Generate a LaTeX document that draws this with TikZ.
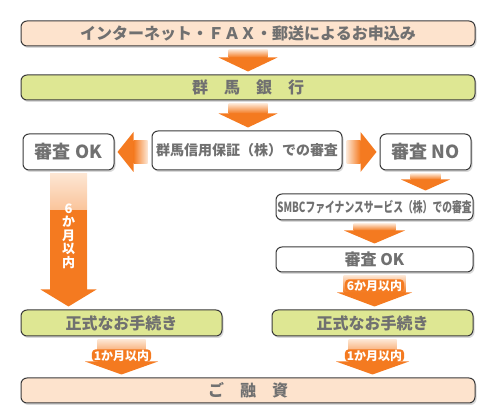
\documentclass[tikz,border=0pt]{standalone}
\usepackage{fontspec}
\newfontfamily\jp{Noto Sans CJK JP}
\usetikzlibrary{calc,shadows,positioning}

\definecolor{arrorange}{HTML}{F47A20}
\definecolor{palefade}{HTML}{FDE6D3}
\definecolor{peach}{HTML}{FDE3CD}
\definecolor{leaf}{HTML}{DEE793}
\definecolor{txtgray}{HTML}{707070}
\definecolor{edge}{HTML}{3A3A3A}

\tikzset{
  box/.style={draw=edge, line width=1pt, rounded corners=6pt, fill=white, text=txtgray,
    font=\jp\bfseries\fontsize{16pt}{16pt}\selectfont, inner sep=0pt,
    drop shadow={shadow xshift=1.5pt, shadow yshift=-2pt, opacity=.3}},
  widebox/.style={box, fill=peach, minimum width=454pt, minimum height=25pt},
  leafbox/.style={box, fill=leaf},
  tag/.style={fill=arrorange, text=white, rounded corners=4pt, inner xsep=2pt, inner ysep=.5pt,
    font=\jp\bfseries\fontsize{12pt}{12pt}\selectfont}
}

% block arrow pointing down: from, to, shaft half width, head half width, head length
\newcommand{\flowdown}[5]{%
  \coordinate (fs) at ($(#1.south)+(0,3)$);
  \coordinate (ft) at ($(fs |- #2.north)+(0,-3)$);
  \shade[top color=palefade, bottom color=arrorange] ($(fs)+(-#3,0)$) rectangle ($(ft)+(#3,-#5)$);
  \fill[arrorange] ($(ft)+(-#4,-#5)$) -- ($(ft)+(#4,-#5)$) -- (ft) -- cycle;
}

\begin{document}
\begin{tikzpicture}[x=1pt, y=-1pt]
  \useasboundingbox (0,0) rectangle (504,419);

  % boxes
  \node[widebox] (apply) at (248,33.5) {インターネット・ＦＡＸ・郵送によるお申込み};
  \node[widebox, fill=leaf] (bank) at (248,87.5) {群　馬　銀　行};
  \node[box, minimum width=91pt, minimum height=36pt, font=\jp\bfseries\fontsize{18pt}{18pt}\selectfont]
    (okL) at (68.5,152) {審査 OK};
  \node[box, minimum width=190pt, minimum height=39pt, font=\jp\bfseries\fontsize{14pt}{14pt}\selectfont]
    (hosho) at (247,150.5) {群馬信用保証（株）での審査};
  \node[box, minimum width=91pt, minimum height=36pt, font=\jp\bfseries\fontsize{18pt}{18pt}\selectfont]
    (noR) at (425.5,152) {審査 NO};
  \node[box, minimum width=197pt, minimum height=26pt, font=\jp\bfseries\fontsize{14pt}{14pt}\selectfont]
    (smbc) at (374.5,207) {\scalebox{0.7}[1]{SMBCファイナンスサービス（株）での審査}};
  \node[box, minimum width=197pt, minimum height=25pt] (okR) at (374.5,259.5) {審査 OK};
  \node[leafbox, minimum width=201pt, minimum height=26pt] (tetL) at (121.5,323) {正式なお手続き};
  \node[leafbox, minimum width=201pt, minimum height=26pt] (tetR) at (372.5,323) {正式なお手続き};
  \node[widebox] (yushi) at (248,390.5) {ご　融　資};

  % arrows down
  \flowdown{apply}{bank}{19.5}{29.5}{14}
  \flowdown{bank}{hosho}{19.5}{29.5}{14}
  \flowdown{noR}{smbc}{15}{24.5}{11}
  \flowdown{smbc}{okR}{21}{30.5}{13}
  \flowdown{okR}{tetR}{31}{37.5}{14}
  \flowdown{tetL}{yushi}{24}{36.5}{13}
  \flowdown{tetR}{yushi}{24}{36.5}{13}
  \flowdown{okL}{tetL}{18.5}{28}{17}
  \fill[arrorange] ($(okL.south)+(-18.5,40)$) rectangle ($(tetL.north -| okL.south)+(18.5,-20)$);

  % arrows to the sides
  \coordinate (ls) at ($(hosho.west |- okL.east)+(-4,0)$);
  \coordinate (lt) at ($(okL.east)+(3,0)$);
  \shade[left color=arrorange, right color=palefade] ($(lt)+(16,-11.5)$) rectangle ($(ls)+(0,11.5)$);
  \fill[arrorange] ($(lt)+(16,-20)$) -- ($(lt)+(16,20)$) -- (lt) -- cycle;
  \coordinate (rs) at ($(hosho.east |- noR.west)+(4,0)$);
  \coordinate (rt) at ($(noR.west)+(-3,0)$);
  \shade[left color=palefade, right color=arrorange] ($(rs)+(0,-11.5)$) rectangle ($(rt)+(-16,11.5)$);
  \fill[arrorange] ($(rt)+(-16,-20)$) -- ($(rt)+(-16,20)$) -- (rt) -- cycle;

  % labels on arrows
  \node[text=white, font=\jp\bfseries\fontsize{13pt}{13.5pt}\selectfont, align=center, inner sep=0pt]
    (sixL) at ($(okL.south)!0.47!(tetL.north -| okL.south)$) {6\\か\\月\\以\\内};
  \node[tag] (sixR) at ($(okR.south)+(0,13)$) {6か月以内};
  \node[tag] (oneL) at ($(tetL.south)+(0,19)$) {1か月以内};
  \node[tag] (oneR) at ($(tetR.south)+(2,19)$) {1か月以内};
\end{tikzpicture}
\end{document}
